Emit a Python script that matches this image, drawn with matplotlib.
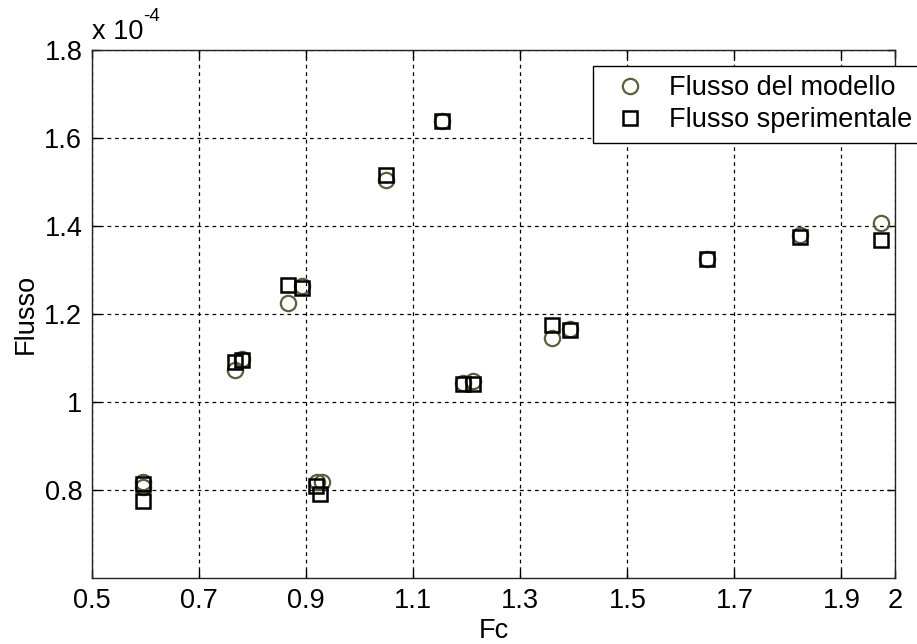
import matplotlib
matplotlib.use('Agg')
import matplotlib.pyplot as plt

# Flux values are in units of 1e-4
fc_modello = [0.595, 0.595, 0.767, 0.780, 0.866, 0.893, 0.920, 0.930,
              1.050, 1.154, 1.193, 1.212, 1.360, 1.392, 1.648, 1.823, 1.973]
flusso_modello = [0.818, 0.807, 1.073, 1.098, 1.224, 1.264, 0.818, 0.818,
                  1.504, 1.638, 1.043, 1.048, 1.146, 1.167, 1.324, 1.379, 1.406]

fc_sperimentale = [0.595, 0.595, 0.767, 0.780, 0.866, 0.893, 0.918, 0.926,
                   1.050, 1.154, 1.193, 1.212, 1.360, 1.392, 1.648, 1.823, 1.973]
flusso_sperimentale = [0.814, 0.775, 1.092, 1.096, 1.265, 1.260, 0.810, 0.790,
                       1.515, 1.638, 1.041, 1.041, 1.174, 1.164, 1.324, 1.374, 1.369]

x_ticks = [0.5, 0.7, 0.9, 1.1, 1.3, 1.5, 1.7, 1.9, 2.0]
x_tick_labels = ['0.5', '0.7', '0.9', '1.1', '1.3', '1.5', '1.7', '1.9', '2']
y_ticks = [0.8, 1.0, 1.2, 1.4, 1.6, 1.8]
y_tick_labels = ['0.8', '1', '1.2', '1.4', '1.6', '1.8']

plt.rcParams['font.family'] = ['Liberation Sans', 'DejaVu Sans']
FS = 19.5

fig = plt.figure(figsize=(9.17, 6.44), dpi=100)
ax = fig.add_axes([0.1003, 0.1025, 0.8757, 0.8199])

ax.plot(fc_modello, flusso_modello, 'o', ls='none', ms=11, mfc='none',
        mec='#5e5e3e', mew=1.6, label='Flusso del modello', clip_on=False)
ax.plot(fc_sperimentale, flusso_sperimentale, 's', ls='none', ms=10.5, mfc='none',
        mec='black', mew=1.8, label='Flusso sperimentale', clip_on=False)

ax.set_xlim(0.5, 2.0)
ax.set_ylim(0.6, 1.8)
ax.set_xticks(x_ticks)
ax.set_xticklabels(x_tick_labels)
ax.set_yticks(y_ticks)
ax.set_yticklabels(y_tick_labels)
ax.tick_params(direction='in', length=6, width=1, labelsize=FS,
               top=True, right=True, pad=7, colors='black')
for s in ax.spines.values():
    s.set_linewidth(1.0)
    s.set_color('#222222')

ax.grid(True, color='black', linestyle=(0, (3, 3)), linewidth=0.9)
ax.set_axisbelow(True)

ax.set_xlabel('Fc', fontsize=FS, labelpad=3)
ax.set_ylabel('Flusso', fontsize=FS, labelpad=4)

# exponent label above the y axis
base = ax.text(0.0, 1.01, 'x 10', transform=ax.transAxes, fontsize=FS,
               ha='left', va='bottom')
fig.canvas.draw()
bb = base.get_window_extent().transformed(ax.transAxes.inverted())
ax.text(bb.x1, bb.y1 - 0.012, '-4', transform=ax.transAxes, fontsize=FS - 6,
        ha='left', va='bottom')

leg = ax.legend(loc='upper left', bbox_to_anchor=(0.624, 0.970),
                fontsize=FS, frameon=True, fancybox=False, borderaxespad=0,
                handlelength=2.0, handletextpad=0.45, borderpad=0.35,
                labelspacing=0.22, framealpha=1)
leg.get_frame().set_edgecolor('black')
leg.get_frame().set_linewidth(1.0)

fig.savefig('out.png', dpi=100)
